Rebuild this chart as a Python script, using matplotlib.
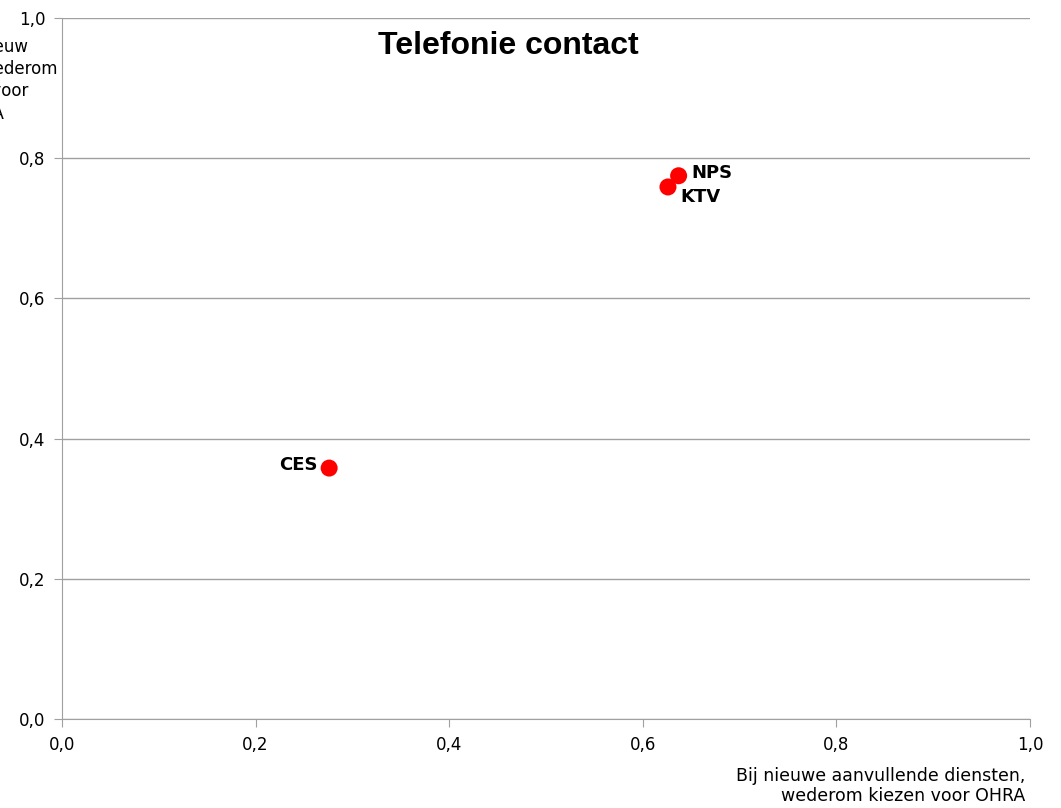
import matplotlib.pyplot as plt
from matplotlib.ticker import FuncFormatter

# gegevens
labels = ["NPS", "KTV", "CES"]
x_vals = [0.637, 0.626, 0.276]
y_vals = [0.775, 0.759, 0.358]

ticks = [0.0, 0.2, 0.4, 0.6, 0.8, 1.0]

fig = plt.figure(figsize=(10.61, 8.08), dpi=100)
ax = fig.add_axes([0.0584, 0.1101, 0.9124, 0.8676])

ax.scatter(x_vals, y_vals, s=150, color="#ff0000", zorder=3, edgecolors="none")

# labels naast de punten
offsets = {"NPS": (9, 2, "left"), "KTV": (9, -7, "left"), "CES": (-8, 2, "right")}
for name, xv, yv in zip(labels, x_vals, y_vals):
    dx, dy, ha = offsets[name]
    ax.annotate(name, (xv, yv), xytext=(dx, dy), textcoords="offset points",
                ha=ha, va="center", fontsize=13, fontweight="bold", color="black")

ax.set_xlim(0, 1)
ax.set_ylim(0, 1)
ax.set_xticks(ticks)
ax.set_yticks(ticks)
fmt = FuncFormatter(lambda v, p: ("%.1f" % v).replace(".", ","))
ax.xaxis.set_major_formatter(fmt)
ax.yaxis.set_major_formatter(fmt)
ax.tick_params(axis="both", labelsize=12, length=6, color="#a0a0a0", labelcolor="black")
ax.tick_params(axis="x", pad=6)
ax.tick_params(axis="y", pad=6)

ax.grid(axis="y", color="#a0a0a0", linewidth=1)
ax.set_axisbelow(True)
for s in ["top", "right"]:
    ax.spines[s].set_visible(False)
for s in ["left", "bottom"]:
    ax.spines[s].set_color("#a0a0a0")

ax.text(0.461, 0.96, "Telefonie contact", transform=ax.transAxes, ha="center", va="center",
        fontsize=23, fontweight="bold", family="Liberation Sans")

fig.text(0.966, 0.027, "Bij nieuwe aanvullende diensten,\nwederom kiezen voor OHRA",
         ha="right", va="center", multialignment="right", fontsize=12.5, linespacing=1.1)

fig.text(-0.019, 0.953, "Bij opnieuw\nafsluiten wederom\nkiezen voor\nOHRA",
         ha="center", va="top", multialignment="center", fontsize=12, linespacing=1.3)

fig.savefig("out.png", dpi=100)
